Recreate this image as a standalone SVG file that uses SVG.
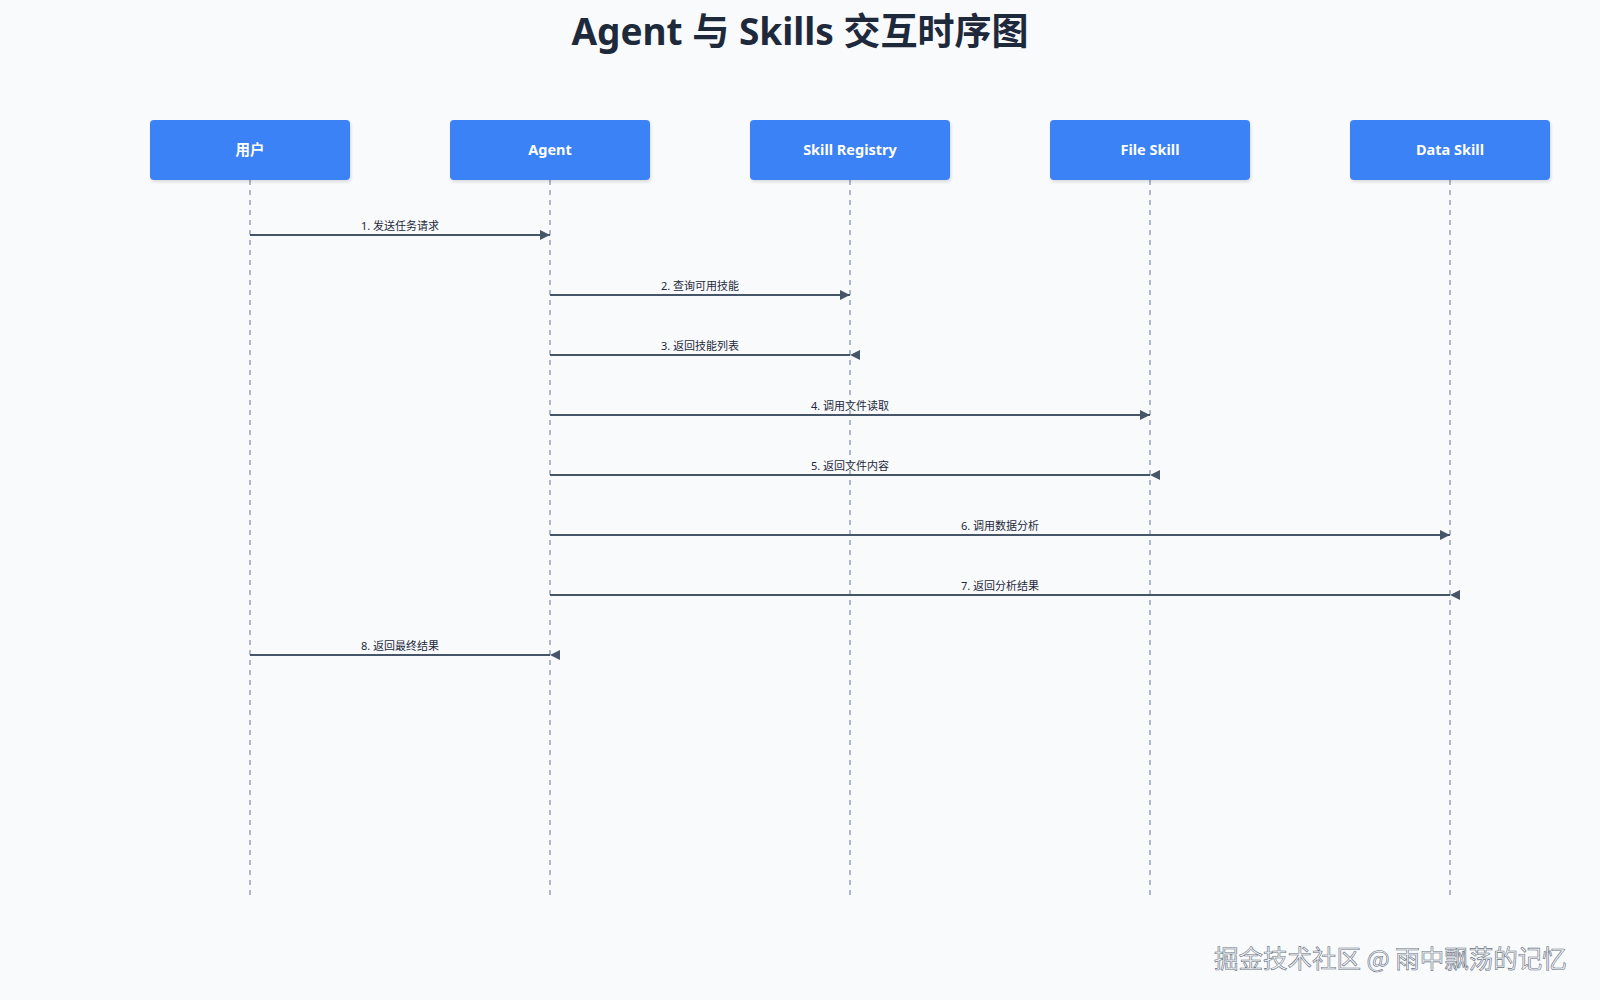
<svg xmlns="http://www.w3.org/2000/svg" width="1600" height="1000" viewBox="0 0 1600 1000">
<defs>
<style>
.title{font-family:"Noto Sans","Noto Sans CJK SC",sans-serif;font-size:37px;font-weight:bold;fill:#1e293b;text-anchor:middle}
.box{fill:#3b82f6;rx:4px}
.bt{font-family:"Noto Sans","Noto Sans CJK SC",sans-serif;font-size:14.5px;font-weight:bold;fill:#ffffff;text-anchor:middle}
.life{stroke:#94a3b8;stroke-width:1.5;stroke-dasharray:5,5;fill:none}
.msg{stroke:#475569;stroke-width:2;fill:none}
.fwd{marker-end:url(#af)}
.ret{marker-end:url(#ar)}
.lbl{font-family:"Noto Sans","Noto Sans CJK SC",sans-serif;font-size:11px;fill:#1e293b;text-anchor:middle}
.wm{font-family:"Noto Sans CJK SC",sans-serif;font-size:24.5px;fill:#f1f5f9;stroke:#6b7280;stroke-width:0.6}
</style>
<marker id="af" markerWidth="10" markerHeight="10" refX="10" refY="5" orient="auto" markerUnits="userSpaceOnUse"><path d="M0,0 L10,5 L0,10 z" fill="#475569"/></marker>
<marker id="ar" markerWidth="10" markerHeight="10" refX="0" refY="5" orient="auto" markerUnits="userSpaceOnUse"><path d="M10,0 L0,5 L10,10 z" fill="#475569"/></marker>
<filter id="sh" x="-10%" y="-10%" width="120%" height="130%"><feDropShadow dx="1" dy="2" stdDeviation="1.5" flood-color="#000" flood-opacity="0.12"/></filter>
</defs>
<rect width="1600" height="1000" fill="#f8fafc"/>
<text class="title" x="800" y="45">Agent 与 Skills 交互时序图</text>
<g id="lifelines">
<line class="life" x1="250" y1="180" x2="250" y2="895"/>
<line class="life" x1="550" y1="180" x2="550" y2="895"/>
<line class="life" x1="850" y1="180" x2="850" y2="895"/>
<line class="life" x1="1150" y1="180" x2="1150" y2="895"/>
<line class="life" x1="1450" y1="180" x2="1450" y2="895"/>
</g>
<g id="user"><rect class="box" x="150" y="120" width="200" height="60" filter="url(#sh)"/><text class="bt" x="250" y="155">用户</text></g>
<g id="agent"><rect class="box" x="450" y="120" width="200" height="60" filter="url(#sh)"/><text class="bt" x="550" y="155">Agent</text></g>
<g id="registry"><rect class="box" x="750" y="120" width="200" height="60" filter="url(#sh)"/><text class="bt" x="850" y="155">Skill Registry</text></g>
<g id="fileskill"><rect class="box" x="1050" y="120" width="200" height="60" filter="url(#sh)"/><text class="bt" x="1150" y="155">File Skill</text></g>
<g id="dataskill"><rect class="box" x="1350" y="120" width="200" height="60" filter="url(#sh)"/><text class="bt" x="1450" y="155">Data Skill</text></g>
<g id="connectors">
<line class="msg fwd" x1="250" y1="235" x2="550" y2="235"/><text class="lbl" x="400" y="230">1. 发送任务请求</text>
<line class="msg fwd" x1="550" y1="295" x2="850" y2="295"/><text class="lbl" x="700" y="290">2. 查询可用技能</text>
<line class="msg ret" x1="550" y1="355" x2="850" y2="355"/><text class="lbl" x="700" y="350">3. 返回技能列表</text>
<line class="msg fwd" x1="550" y1="415" x2="1150" y2="415"/><text class="lbl" x="850" y="410">4. 调用文件读取</text>
<line class="msg ret" x1="550" y1="475" x2="1150" y2="475"/><text class="lbl" x="850" y="470">5. 返回文件内容</text>
<line class="msg fwd" x1="550" y1="535" x2="1450" y2="535"/><text class="lbl" x="1000" y="530">6. 调用数据分析</text>
<line class="msg ret" x1="550" y1="595" x2="1450" y2="595"/><text class="lbl" x="1000" y="590">7. 返回分析结果</text>
<line class="msg ret" x1="250" y1="655" x2="550" y2="655"/><text class="lbl" x="400" y="650">8. 返回最终结果</text>
</g>
<text class="wm" x="1214" y="968">掘金技术社区 @ 雨中飘荡的记忆</text>
</svg>
